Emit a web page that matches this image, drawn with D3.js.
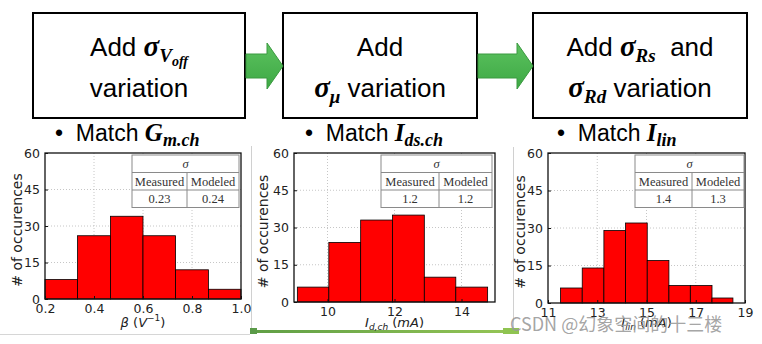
<!DOCTYPE html>
<html><head><meta charset="utf-8">
<script src="https://cdn.jsdelivr.net/npm/d3@7"></script>
<style>body{margin:0;background:#fff} svg{display:block} text{white-space:pre}</style>
</head><body>
<svg id="c" width="762" height="344"></svg>
<script>
// ---------- data ----------
const binEdgesBeta = [0.2, 0.333, 0.467, 0.6, 0.733, 0.867, 1.0];
const countsBeta = [8, 26, 34, 26, 12, 4];
const binEdgesIdch = [9.10, 10.04, 10.99, 11.94, 12.89, 13.83, 14.78];
const countsIdch = [6, 24, 33, 35, 10, 6];
const binEdgesIlin = [11.51, 12.39, 13.27, 14.15, 15.03, 15.91, 16.78, 17.66, 18.51];
const countsIlin = [6, 14, 29, 32, 17, 7, 7, 2];
const yTicks = [0, 15, 30, 45, 60];
const xTicksBeta = [0.2, 0.4, 0.6, 0.8, 1.0];
const xTicksIdch = [10, 12, 14];
const xTicksIlin = [11, 13, 15, 17, 19];
const tableHeader = ["Measured", "Modeled"];
const sigmaMeasured = ["0.23", "1.2", "1.4"];
const sigmaModeled = ["0.24", "1.2", "1.3"];
const yTitle = "# of occurences";

const SANS = "'Liberation Sans', Arial, sans-serif";
const SERIF = "'Liberation Serif', 'Times New Roman', serif";
const DV = "'DejaVu Sans', sans-serif";

const svg = d3.select("#c");
svg.append("rect").attr("width", 762).attr("height", 344).attr("fill", "#fff");

// rich text helper
function rich(sel, x, y, anchor, parts) {
  const t = sel.append("text").attr("x", x).attr("y", y).attr("text-anchor", anchor).attr("fill", "#000");
  let cur = 0;
  parts.forEach(p => {
    const ts = t.append("tspan").text(p.t);
    const b = p.b || 0;
    if (b !== cur) ts.attr("dy", b - cur);
    cur = b;
    ts.attr("font-family", p.f || SANS).attr("font-size", p.s)
      .attr("font-weight", p.w || "normal").attr("font-style", p.i ? "italic" : "normal");
  });
  return t;
}

// ---------- flow boxes ----------
const boxY0 = 13, boxY1 = 118;
const boxes = [[33, 245], [283, 477], [533, 747]];
boxes.forEach(([a, b]) => {
  svg.append("rect").attr("x", a).attr("y", boxY0).attr("width", b - a).attr("height", boxY1 - boxY0)
    .attr("fill", "#fff").attr("stroke", "#000").attr("stroke-width", 2);
});
const defs = svg.append("defs");
const ag = defs.append("linearGradient").attr("id", "ag").attr("x1", 0).attr("y1", 0).attr("x2", 0).attr("y2", 1);
ag.append("stop").attr("offset", 0).attr("stop-color", "#5cc25f");
ag.append("stop").attr("offset", 1).attr("stop-color", "#3da844");
function arrow(xs, xe) {
  const cy = 66, bh = 12, hh = 23, hl = 16;
  const pts = [[xs, cy - bh], [xe - hl, cy - bh], [xe - hl, cy - hh], [xe, cy], [xe - hl, cy + hh], [xe - hl, cy + bh], [xs, cy + bh]];
  svg.append("polygon").attr("points", pts.map(p => p.join(",")).join(" "))
    .attr("fill", "url(#ag)").attr("stroke", "#3a9a40").attr("stroke-width", 1);
}
arrow(246, 283);
arrow(478, 533);

const BS = 26, MS = 29;
rich(svg, 139, 56, "middle", [
  {t: "Add ", s: BS},
  {t: "σ", f: SERIF, s: MS, w: "bold", i: true},
  {t: "V", f: SERIF, s: 19, w: "bold", i: true, b: 6},
  {t: "off", f: SERIF, s: 14, w: "bold", i: true, b: 10}
]);
rich(svg, 139, 97, "middle", [{t: "variation", s: BS}]);
rich(svg, 380, 56, "middle", [{t: "Add", s: BS}]);
rich(svg, 380, 97, "middle", [
  {t: "σ", f: SERIF, s: MS, w: "bold", i: true},
  {t: "μ", f: SERIF, s: 19, w: "bold", i: true, b: 6},
  {t: " variation", s: BS, b: 0}
]);
rich(svg, 640, 56, "middle", [
  {t: "Add ", s: BS},
  {t: "σ", f: SERIF, s: MS, w: "bold", i: true},
  {t: "Rs", f: SERIF, s: 19, w: "bold", i: true, b: 6},
  {t: "  and", s: BS, b: 0}
]);
rich(svg, 640, 97, "middle", [
  {t: "σ", f: SERIF, s: MS, w: "bold", i: true},
  {t: "Rd", f: SERIF, s: 19, w: "bold", i: true, b: 6},
  {t: " variation", s: BS, b: 0}
]);

// ---------- "Match" titles ----------
const TS = 23;
rich(svg, 55, 141, "start", [
  {t: "•  Match ", s: TS},
  {t: "G", f: SERIF, s: 25, w: "bold", i: true},
  {t: "m.ch", f: SERIF, s: 18, w: "bold", i: true, b: 5}
]);
rich(svg, 305, 141, "start", [
  {t: "•  Match ", s: TS},
  {t: "I", f: SERIF, s: 25, w: "bold", i: true},
  {t: "ds.ch", f: SERIF, s: 18, w: "bold", i: true, b: 5}
]);
rich(svg, 557, 141, "start", [
  {t: "•  Match ", s: TS},
  {t: "I", f: SERIF, s: 25, w: "bold", i: true},
  {t: "lin", f: SERIF, s: 18, w: "bold", i: true, b: 5}
]);

// ---------- screenshot panel frames ----------
svg.append("rect").attr("x", 0).attr("y", 147).attr("width", 250).attr("height", 187).attr("fill", "#fff");
svg.append("rect").attr("x", 252).attr("y", 147).attr("width", 260).attr("height", 184).attr("fill", "#fff");
svg.append("rect").attr("x", 514).attr("y", 147).attr("width", 248).attr("height", 197).attr("fill", "#fff");
svg.append("line").attr("x1", 0).attr("x2", 250).attr("y1", 334.5).attr("y2", 334.5).attr("stroke", "#d6d6d6");
svg.append("line").attr("x1", 251.5).attr("x2", 251.5).attr("y1", 146).attr("y2", 330).attr("stroke", "#d0d0d0");
svg.append("line").attr("x1", 513.5).attr("x2", 513.5).attr("y1", 147).attr("y2", 330).attr("stroke", "#d0d0d0");
const gg = defs.append("linearGradient").attr("id", "gg");
gg.append("stop").attr("offset", 0).attr("stop-color", "#5f9e45");
gg.append("stop").attr("offset", 1).attr("stop-color", "#95c556");
svg.append("rect").attr("x", 250).attr("y", 330).attr("width", 263).attr("height", 3).attr("fill", "url(#gg)");
svg.append("rect").attr("x", 250).attr("y", 328).attr("width", 7).attr("height", 6).attr("fill", "#5a9a48");
svg.append("rect").attr("x", 503).attr("y", 328).attr("width", 16).attr("height", 6).attr("fill", "#8fc451");

// ---------- histograms ----------
const panels = [
  {l: 45, r: 241, t: 153, b: 299, dom: [0.2, 1.0], edges: binEdgesBeta, counts: countsBeta, xt: xTicksBeta, fmt: d3.format(".1f"),
   ylx: 17, tab: [132, 187, 239], k: 0,
   xl: [{t: "β", i: true, s: 13}, {t: " (", s: 13}, {t: "V", i: true, s: 13}, {t: "−1", i: false, s: 9, b: -6}, {t: ")", s: 13, b: 0}]},
  {l: 294, r: 495, t: 153, b: 302, dom: [9, 15], edges: binEdgesIdch, counts: countsIdch, xt: xTicksIdch, fmt: d3.format("d"),
   ylx: 263, tab: [381, 439, 492], k: 1,
   xl: [{t: "I", i: true, s: 13}, {t: "d,ch", i: true, s: 9, b: 3}, {t: " (", s: 13, b: 0}, {t: "mA", i: true, s: 13}, {t: ")", s: 13}]},
  {l: 548, r: 745, t: 153, b: 303, dom: [11, 19], edges: binEdgesIlin, counts: countsIlin, xt: xTicksIlin, fmt: d3.format("d"),
   ylx: 520, tab: [635, 692, 744], k: 2,
   xl: [{t: "I", i: true, s: 13}, {t: "lin", i: true, s: 9, b: 3}, {t: " (", s: 13, b: 0}, {t: "mA", i: true, s: 13}, {t: ")", s: 13}]}
];

panels.forEach(p => {
  const x = d3.scaleLinear().domain(p.dom).range([p.l, p.r]);
  const y = d3.scaleLinear().domain([0, 60]).range([p.b, p.t]);
  const g = svg.append("g");
  // grid
  g.selectAll(".gx").data(p.xt.filter(v => v > p.dom[0] && v < p.dom[1])).join("line")
    .attr("x1", d => x(d)).attr("x2", d => x(d)).attr("y1", p.t).attr("y2", p.b)
    .attr("stroke", "#b8b8b8").attr("stroke-width", 0.8).attr("stroke-dasharray", "1,2");
  g.selectAll(".gy").data(yTicks.filter(v => v > 0 && v < 60)).join("line")
    .attr("x1", p.l).attr("x2", p.r).attr("y1", d => y(d)).attr("y2", d => y(d))
    .attr("stroke", "#b8b8b8").attr("stroke-width", 0.8).attr("stroke-dasharray", "1,2");
  // bars
  g.selectAll(".bar").data(p.counts).join("rect")
    .attr("x", (d, i) => x(p.edges[i])).attr("width", (d, i) => x(p.edges[i + 1]) - x(p.edges[i]))
    .attr("y", d => y(d)).attr("height", d => y(0) - y(d))
    .attr("fill", "#ff0000").attr("stroke", "#000").attr("stroke-width", 0.8);
  // frame
  g.append("rect").attr("x", p.l).attr("y", p.t).attr("width", p.r - p.l).attr("height", p.b - p.t)
    .attr("fill", "none").attr("stroke", "#111").attr("stroke-width", 1.3);
  // axes
  const ax = g.append("g").attr("transform", `translate(0,${p.b})`)
    .call(d3.axisBottom(x).tickValues(p.xt).tickFormat(p.fmt).tickSizeInner(-3).tickSizeOuter(0).tickPadding(5));
  const ay = g.append("g").attr("transform", `translate(${p.l},0)`)
    .call(d3.axisLeft(y).tickValues(yTicks).tickSizeInner(-3).tickSizeOuter(0).tickPadding(5));
  [ax, ay].forEach(a => {
    a.select(".domain").remove();
    a.selectAll("line").attr("stroke", "#111");
    a.selectAll("text").attr("font-family", DV).attr("font-size", 12.5).attr("fill", "#222");
  });
  // y title
  g.append("text").attr("transform", `translate(${p.ylx},${(p.t + p.b) / 2 + 4}) rotate(-90)`)
    .attr("text-anchor", "middle").attr("dy", "0.35em")
    .attr("font-family", DV).attr("font-size", 14).attr("fill", "#222").text(yTitle);
  // x title
  const xt = rich(g, (p.l + p.r) / 2, 327, "middle", p.xl.map(q => Object.assign({f: DV}, q)));
  xt.attr("fill", "#222");
  // table
  const [tx0, tx1, tx2] = p.tab;
  const ty0 = p.t + 2, rh = 17.5;
  const tg = g.append("g");
  tg.append("rect").attr("x", tx0).attr("y", ty0).attr("width", tx2 - tx0).attr("height", rh * 3)
    .attr("fill", "#fff").attr("stroke", "#8a8a8a").attr("stroke-width", 1);
  [1, 2].forEach(r => tg.append("line").attr("x1", tx0).attr("x2", tx2).attr("y1", ty0 + rh * r).attr("y2", ty0 + rh * r)
    .attr("stroke", "#8a8a8a"));
  tg.append("line").attr("x1", tx1).attr("x2", tx1).attr("y1", ty0 + rh).attr("y2", ty0 + rh * 3).attr("stroke", "#8a8a8a");
  const tcell = (cx, cy, s, it) => tg.append("text").attr("x", cx).attr("y", cy).attr("text-anchor", "middle")
    .attr("dy", "0.35em").attr("font-family", SERIF).attr("font-size", 12.5).attr("font-style", it ? "italic" : "normal")
    .attr("fill", "#333").text(s);
  tcell((tx0 + tx2) / 2, ty0 + rh * 0.5, "σ", true);
  tcell((tx0 + tx1) / 2, ty0 + rh * 1.5, tableHeader[0]);
  tcell((tx1 + tx2) / 2, ty0 + rh * 1.5, tableHeader[1]);
  tcell((tx0 + tx1) / 2, ty0 + rh * 2.5, sigmaMeasured[p.k]);
  tcell((tx1 + tx2) / 2, ty0 + rh * 2.5, sigmaModeled[p.k]);
});

// ---------- watermark ----------
svg.append("text").attr("x", 510).attr("y", 331).attr("font-family", "'Noto Sans CJK SC', sans-serif")
  .attr("font-size", 18).attr("fill", "#9a9a9a").attr("fill-opacity", 0.9).text("CSDN @幻象空间的十三楼");
</script>
</body></html>
